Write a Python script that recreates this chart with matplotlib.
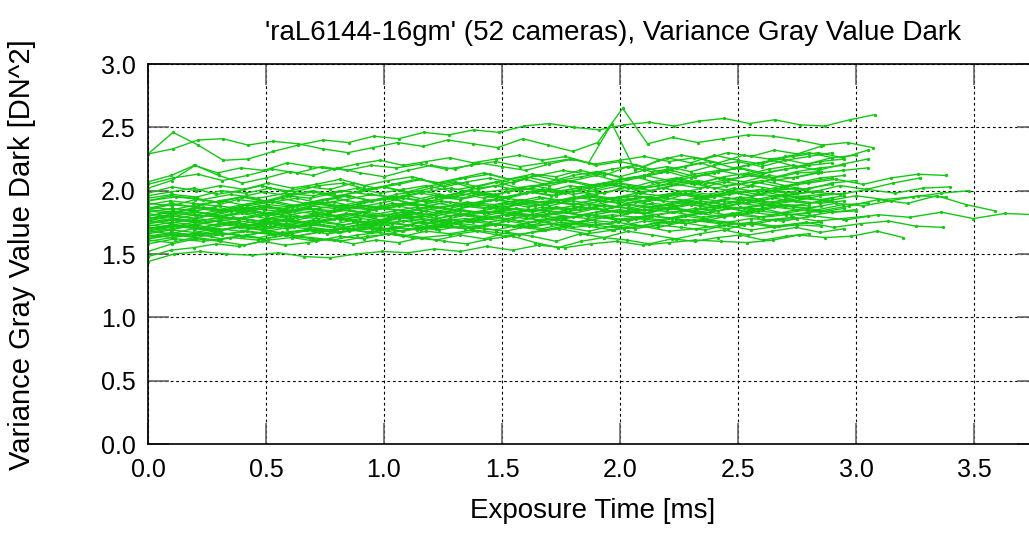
import numpy as np
import matplotlib
matplotlib.use('Agg')
import matplotlib.pyplot as plt

# max exposure time (ms) of each camera, same order as the variance lists below
t_max = [3.08, 3.07, 2.85, 3.05, 2.90,
         3.20, 2.80, 2.95,
         3.38, 3.27, 3.40, 3.48, 3.59, 3.90, 3.37, 3.38,
         2.95, 2.80, 3.00, 2.85, 2.90, 2.75, 3.05, 2.90, 2.85, 2.95,
         2.80, 3.00, 2.90, 2.85, 2.95, 2.75, 3.05, 2.90, 2.80, 2.95,
         2.85, 3.00, 2.90, 2.80, 2.95, 2.85, 3.05, 2.90, 2.75, 2.95,
         2.85, 3.00, 2.90, 3.05, 2.95, 2.85]

# variance gray value dark [DN^2], one list per camera
cam_01 = [2.29, 2.46, 2.36, 2.24, 2.25, 2.31, 2.36, 2.40, 2.38, 2.43, 2.41, 2.46, 2.44, 2.48, 2.46,
          2.51, 2.53, 2.50, 2.48, 2.52, 2.54, 2.51, 2.55, 2.57, 2.53, 2.56, 2.52, 2.51, 2.56, 2.60]
cam_02 = [2.29, 2.33, 2.40, 2.41, 2.36, 2.39, 2.37, 2.33, 2.30, 2.34, 2.38, 2.35, 2.40, 2.37, 2.34,
          2.41, 2.36, 2.31, 2.38, 2.65, 2.37, 2.42, 2.38, 2.41, 2.44, 2.43, 2.40, 2.36, 2.38, 2.34]
cam_03 = [2.07, 2.12, 2.20, 2.14, 2.18, 2.16, 2.22, 2.19, 2.17, 2.21, 2.24, 2.20, 2.23, 2.26, 2.22,
          2.25, 2.28, 2.24, 2.27, 2.22, 2.53, 2.16, 2.24, 2.28, 2.25, 2.30, 2.27, 2.32, 2.29, 2.35]
cam_04 = [2.05, 2.10, 2.13, 2.08, 2.12, 2.17, 2.14, 2.19, 2.16, 2.20, 2.18, 2.21, 2.17, 2.20, 2.23,
          2.19, 2.22, 2.25, 2.21, 2.24, 2.27, 2.23, 2.26, 2.22, 2.28, 2.25, 2.27, 2.30, 2.26, 2.32]
cam_05 = [2.02, 2.08, 2.20, 2.12, 2.06, 2.10, 2.15, 2.12, 2.18, 2.14, 2.11, 2.16, 2.20, 2.17, 2.22,
          2.19, 2.16, 2.21, 2.25, 2.20, 2.23, 2.19, 2.26, 2.22, 2.28, 2.24, 2.21, 2.27, 2.30, 2.26]
cam_06 = [1.44, 1.50, 1.52, 1.50, 1.49, 1.51, 1.48, 1.47, 1.50, 1.52, 1.51, 1.54, 1.52, 1.56, 1.53,
          1.57, 1.55, 1.58, 1.60, 1.57, 1.59, 1.61, 1.60, 1.59, 1.61, 1.65, 1.63, 1.64, 1.68, 1.63]
cam_07 = [1.48, 1.53, 1.55, 1.58, 1.56, 1.60, 1.57, 1.59, 1.62, 1.58, 1.61, 1.59, 1.63, 1.60, 1.58,
          1.62, 1.64, 1.59, 1.55, 1.60, 1.63, 1.61, 1.58, 1.62, 1.60, 1.63, 1.65, 1.61, 1.64, 1.66]
cam_08 = [1.52, 1.58, 1.62, 1.60, 1.57, 1.61, 1.63, 1.60, 1.64, 1.62, 1.66, 1.63, 1.61, 1.65, 1.62,
          1.67, 1.64, 1.60, 1.66, 1.63, 1.68, 1.65, 1.62, 1.66, 1.69, 1.65, 1.68, 1.71, 1.67, 1.70]
cam_09 = [1.92, 1.95, 1.93, 1.97, 1.94, 1.98, 1.96, 2.00, 1.97, 1.95, 1.99, 2.02, 1.98, 2.01, 2.04,
          2.00, 2.03, 2.06, 2.02, 2.05, 2.08, 2.04, 2.07, 2.03, 2.06, 2.09, 2.05, 2.10, 2.13, 2.12]
cam_10 = [1.78, 1.82, 1.80, 1.85, 1.83, 1.81, 1.86, 1.84, 1.88, 1.86, 1.90, 1.87, 1.91, 1.89, 1.93,
          1.90, 1.95, 1.92, 1.96, 1.94, 1.98, 1.95, 2.00, 1.97, 2.02, 1.99, 2.04, 2.01, 2.06, 2.10]
cam_11 = [1.85, 1.83, 1.87, 1.84, 1.88, 1.86, 1.90, 1.87, 1.85, 1.89, 1.92, 1.88, 1.91, 1.94, 1.90,
          1.93, 1.96, 1.92, 1.95, 1.98, 1.94, 1.97, 2.00, 1.96, 1.99, 1.97, 2.01, 1.98, 2.02, 2.03]
cam_12 = [1.74, 1.77, 1.75, 1.79, 1.76, 1.80, 1.78, 1.82, 1.79, 1.83, 1.81, 1.85, 1.82, 1.86, 1.84,
          1.88, 1.85, 1.89, 1.87, 1.91, 1.88, 1.93, 1.90, 1.94, 1.92, 1.96, 1.93, 1.95, 1.98, 2.00]
cam_13 = [1.68, 1.72, 1.70, 1.74, 1.71, 1.75, 1.73, 1.70, 1.74, 1.77, 1.73, 1.76, 1.79, 1.75, 1.78,
          1.81, 1.77, 1.80, 1.83, 1.79, 1.82, 1.86, 1.81, 1.84, 1.88, 1.93, 1.90, 1.96, 1.89, 1.84]
cam_14 = [1.62, 1.66, 1.64, 1.68, 1.65, 1.69, 1.67, 1.71, 1.68, 1.72, 1.70, 1.74, 1.71, 1.75, 1.73,
          1.70, 1.74, 1.77, 1.74, 1.78, 1.76, 1.80, 1.77, 1.81, 1.79, 1.83, 1.78, 1.82, 1.81, 1.81]
cam_15 = [1.58, 1.62, 1.60, 1.63, 1.61, 1.65, 1.62, 1.60, 1.64, 1.66, 1.63, 1.65, 1.68, 1.64, 1.67,
          1.70, 1.66, 1.69, 1.72, 1.68, 1.70, 1.73, 1.69, 1.72, 1.75, 1.71, 1.74, 1.76, 1.72, 1.71]
cam_16 = [1.70, 1.73, 1.71, 1.75, 1.72, 1.76, 1.74, 1.78, 1.75, 1.79, 1.77, 1.74, 1.78, 1.81, 1.79,
          1.83, 1.80, 1.84, 1.82, 1.86, 1.83, 1.87, 1.85, 1.89, 1.86, 1.90, 1.88, 1.92, 1.96, 1.95]
cam_17 = [1.98, 2.03, 2.00, 2.04, 2.01, 2.06, 2.02, 2.05, 2.09, 2.04, 2.08, 2.11, 2.06, 2.10, 2.14,
          2.09, 2.13, 2.11, 2.16, 2.12, 2.19, 2.15, 2.18, 2.22, 2.16, 2.20, 2.24, 2.19, 2.23, 2.25]
cam_18 = [1.96, 1.99, 2.02, 1.97, 2.00, 2.04, 1.99, 2.03, 2.01, 2.06, 2.02, 2.05, 2.09, 2.03, 2.07,
          2.10, 2.06, 2.12, 2.08, 2.11, 2.14, 2.09, 2.13, 2.16, 2.11, 2.15, 2.18, 2.14, 2.17, 2.20]
cam_19 = [1.94, 1.97, 1.95, 2.00, 1.98, 2.02, 1.99, 2.04, 2.06, 2.01, 2.05, 2.09, 2.06, 2.10, 2.13,
          2.08, 2.12, 2.16, 2.13, 2.17, 2.20, 2.15, 2.19, 2.23, 2.18, 2.22, 2.25, 2.21, 2.26, 2.28]
cam_20 = [1.92, 1.96, 1.94, 1.91, 1.95, 1.99, 1.96, 1.94, 1.98, 2.02, 1.98, 2.01, 2.04, 2.00, 2.03,
          2.07, 2.02, 2.05, 2.08, 2.04, 2.07, 2.11, 2.06, 2.09, 2.13, 2.08, 2.12, 2.10, 2.14, 2.15]
cam_21 = [1.90, 1.88, 1.93, 1.91, 1.95, 1.92, 1.97, 2.00, 1.96, 1.99, 2.03, 1.98, 2.02, 2.06, 2.01,
          2.05, 2.09, 2.04, 2.08, 2.12, 2.07, 2.11, 2.15, 2.10, 2.14, 2.18, 2.13, 2.17, 2.20, 2.22]
cam_22 = [1.89, 1.92, 1.90, 1.88, 1.93, 1.91, 1.94, 1.90, 1.93, 1.96, 1.92, 1.95, 1.93, 1.97, 1.94,
          1.98, 1.95, 1.99, 1.96, 2.00, 1.97, 2.01, 1.98, 2.02, 1.99, 2.03, 2.00, 2.04, 2.01, 2.05]
cam_23 = [1.87, 1.85, 1.89, 1.92, 1.88, 1.91, 1.94, 1.90, 1.93, 1.97, 1.94, 1.98, 1.95, 2.00, 1.97,
          2.02, 1.99, 2.04, 2.01, 2.06, 2.03, 2.08, 2.05, 2.10, 2.07, 2.12, 2.10, 2.14, 2.16, 2.18]
cam_24 = [1.86, 1.90, 1.87, 1.85, 1.89, 1.92, 1.88, 1.91, 1.94, 1.90, 1.93, 1.96, 1.92, 1.95, 1.99,
          1.94, 1.98, 2.01, 1.97, 2.00, 2.04, 1.99, 2.03, 2.06, 2.02, 2.05, 2.08, 2.04, 2.07, 2.10]
cam_25 = [1.84, 1.82, 1.86, 1.84, 1.87, 1.85, 1.83, 1.88, 1.86, 1.89, 1.87, 1.90, 1.88, 1.91, 1.89,
          1.93, 1.90, 1.94, 1.92, 1.95, 1.93, 1.96, 1.94, 1.97, 1.95, 1.99, 1.96, 2.00, 1.98, 2.00]
cam_26 = [1.83, 1.86, 1.84, 1.88, 1.85, 1.89, 1.87, 1.91, 1.88, 1.92, 1.94, 1.90, 1.95, 1.93, 1.97,
          1.94, 1.99, 1.96, 2.01, 1.98, 2.03, 2.00, 2.05, 2.02, 2.07, 2.04, 2.09, 2.06, 2.10, 2.12]
cam_27 = [1.82, 1.79, 1.83, 1.81, 1.85, 1.82, 1.84, 1.86, 1.83, 1.87, 1.85, 1.88, 1.84, 1.87, 1.89,
          1.86, 1.90, 1.88, 1.91, 1.89, 1.92, 1.90, 1.93, 1.91, 1.94, 1.92, 1.95, 1.93, 1.96, 1.95]
cam_28 = [1.80, 1.84, 1.81, 1.85, 1.83, 1.87, 1.84, 1.86, 1.89, 1.86, 1.90, 1.88, 1.92, 1.89, 1.93,
          1.91, 1.95, 1.92, 1.97, 1.94, 1.98, 1.96, 2.00, 1.97, 2.02, 1.99, 2.04, 2.01, 2.06, 2.08]
cam_29 = [1.79, 1.77, 1.81, 1.79, 1.83, 1.80, 1.84, 1.82, 1.85, 1.83, 1.86, 1.84, 1.88, 1.85, 1.89,
          1.87, 1.90, 1.88, 1.92, 1.89, 1.93, 1.91, 1.94, 1.92, 1.96, 1.93, 1.97, 1.95, 1.96, 1.98]
cam_30 = [1.78, 1.81, 1.84, 1.80, 1.83, 1.87, 1.84, 1.88, 1.91, 1.87, 1.90, 1.94, 1.91, 1.95, 1.98,
          1.94, 1.97, 2.01, 1.98, 2.02, 2.05, 2.01, 2.04, 2.08, 2.05, 2.09, 2.12, 2.08, 2.11, 2.15]
cam_31 = [1.77, 1.80, 1.78, 1.76, 1.79, 1.81, 1.78, 1.82, 1.80, 1.83, 1.81, 1.79, 1.83, 1.85, 1.82,
          1.86, 1.84, 1.87, 1.85, 1.88, 1.86, 1.84, 1.88, 1.90, 1.87, 1.91, 1.89, 1.92, 1.90, 1.92]
cam_32 = [1.76, 1.74, 1.78, 1.81, 1.77, 1.80, 1.83, 1.79, 1.82, 1.85, 1.81, 1.84, 1.87, 1.84, 1.88,
          1.86, 1.90, 1.87, 1.91, 1.89, 1.93, 1.90, 1.95, 1.92, 1.97, 1.94, 1.99, 1.96, 2.00, 2.02]
cam_33 = [1.75, 1.78, 1.76, 1.79, 1.77, 1.75, 1.79, 1.81, 1.78, 1.80, 1.82, 1.79, 1.83, 1.81, 1.84,
          1.82, 1.80, 1.84, 1.86, 1.83, 1.85, 1.87, 1.84, 1.88, 1.86, 1.89, 1.87, 1.85, 1.89, 1.90]
cam_34 = [1.74, 1.77, 1.75, 1.79, 1.82, 1.78, 1.81, 1.84, 1.80, 1.83, 1.86, 1.83, 1.87, 1.85, 1.89,
          1.86, 1.90, 1.92, 1.89, 1.93, 1.95, 1.92, 1.96, 1.98, 1.95, 1.99, 2.01, 1.98, 2.02, 2.05]
cam_35 = [1.73, 1.71, 1.75, 1.73, 1.76, 1.74, 1.77, 1.75, 1.78, 1.76, 1.74, 1.78, 1.80, 1.77, 1.81,
          1.79, 1.82, 1.80, 1.83, 1.81, 1.84, 1.82, 1.85, 1.83, 1.86, 1.84, 1.87, 1.85, 1.89, 1.88]
cam_36 = [1.72, 1.75, 1.73, 1.77, 1.74, 1.78, 1.76, 1.80, 1.77, 1.81, 1.79, 1.83, 1.80, 1.84, 1.82,
          1.86, 1.83, 1.87, 1.85, 1.89, 1.86, 1.90, 1.88, 1.92, 1.89, 1.93, 1.91, 1.95, 1.93, 1.96]
cam_37 = [1.71, 1.69, 1.73, 1.76, 1.72, 1.75, 1.78, 1.74, 1.78, 1.81, 1.77, 1.80, 1.84, 1.80, 1.83,
          1.86, 1.83, 1.87, 1.85, 1.89, 1.87, 1.91, 1.88, 1.92, 1.90, 1.94, 1.92, 1.96, 1.98, 2.00]
cam_38 = [1.70, 1.73, 1.71, 1.69, 1.72, 1.74, 1.71, 1.75, 1.73, 1.76, 1.74, 1.72, 1.76, 1.78, 1.75,
          1.79, 1.77, 1.80, 1.78, 1.81, 1.79, 1.77, 1.81, 1.83, 1.80, 1.84, 1.82, 1.85, 1.83, 1.85]
cam_39 = [1.69, 1.72, 1.70, 1.74, 1.71, 1.75, 1.73, 1.77, 1.74, 1.78, 1.76, 1.80, 1.77, 1.81, 1.79,
          1.83, 1.80, 1.84, 1.82, 1.86, 1.83, 1.87, 1.85, 1.89, 1.86, 1.90, 1.88, 1.92, 1.90, 1.94]
cam_40 = [1.68, 1.66, 1.70, 1.68, 1.71, 1.69, 1.72, 1.70, 1.68, 1.72, 1.74, 1.71, 1.75, 1.73, 1.76,
          1.74, 1.72, 1.76, 1.78, 1.75, 1.79, 1.77, 1.80, 1.78, 1.76, 1.80, 1.82, 1.79, 1.81, 1.82]
cam_41 = [1.67, 1.70, 1.73, 1.69, 1.72, 1.76, 1.72, 1.75, 1.79, 1.75, 1.78, 1.82, 1.78, 1.81, 1.84,
          1.81, 1.85, 1.83, 1.87, 1.85, 1.89, 1.87, 1.91, 1.88, 1.92, 1.90, 1.94, 1.92, 1.96, 1.98]
cam_42 = [1.66, 1.69, 1.67, 1.70, 1.68, 1.72, 1.70, 1.73, 1.71, 1.75, 1.72, 1.76, 1.74, 1.77, 1.75,
          1.79, 1.76, 1.80, 1.78, 1.81, 1.79, 1.83, 1.81, 1.84, 1.82, 1.86, 1.83, 1.87, 1.85, 1.88]
cam_43 = [1.65, 1.63, 1.67, 1.65, 1.68, 1.66, 1.64, 1.68, 1.70, 1.67, 1.71, 1.69, 1.72, 1.70, 1.73,
          1.71, 1.69, 1.73, 1.75, 1.72, 1.76, 1.74, 1.77, 1.75, 1.73, 1.77, 1.79, 1.76, 1.78, 1.80]
cam_44 = [1.64, 1.67, 1.65, 1.69, 1.72, 1.68, 1.71, 1.74, 1.70, 1.73, 1.76, 1.73, 1.77, 1.75, 1.79,
          1.76, 1.80, 1.82, 1.79, 1.83, 1.85, 1.82, 1.86, 1.84, 1.88, 1.86, 1.89, 1.87, 1.90, 1.92]
cam_45 = [1.63, 1.66, 1.64, 1.67, 1.65, 1.63, 1.67, 1.69, 1.66, 1.68, 1.70, 1.67, 1.71, 1.69, 1.72,
          1.70, 1.68, 1.72, 1.74, 1.71, 1.73, 1.75, 1.72, 1.76, 1.74, 1.77, 1.75, 1.73, 1.77, 1.78]
cam_46 = [1.62, 1.65, 1.63, 1.67, 1.64, 1.68, 1.66, 1.70, 1.67, 1.71, 1.69, 1.73, 1.70, 1.74, 1.72,
          1.76, 1.73, 1.77, 1.75, 1.79, 1.76, 1.80, 1.78, 1.82, 1.79, 1.83, 1.81, 1.85, 1.83, 1.86]
cam_47 = [1.61, 1.59, 1.63, 1.61, 1.64, 1.62, 1.65, 1.63, 1.61, 1.65, 1.67, 1.64, 1.68, 1.66, 1.69,
          1.67, 1.65, 1.69, 1.71, 1.68, 1.72, 1.70, 1.73, 1.71, 1.69, 1.73, 1.75, 1.72, 1.74, 1.75]
cam_48 = [1.60, 1.63, 1.66, 1.62, 1.65, 1.68, 1.64, 1.67, 1.70, 1.67, 1.71, 1.69, 1.73, 1.70, 1.74,
          1.72, 1.76, 1.73, 1.77, 1.75, 1.78, 1.76, 1.80, 1.77, 1.81, 1.79, 1.82, 1.80, 1.83, 1.84]
cam_49 = [1.85, 1.89, 1.87, 1.92, 1.95, 1.91, 1.96, 1.99, 1.95, 2.00, 2.03, 1.99, 2.04, 2.07, 2.03,
          2.08, 2.11, 2.07, 2.12, 2.15, 2.11, 2.16, 2.19, 2.15, 2.20, 2.23, 2.19, 2.24, 2.27, 2.30]
cam_50 = [1.80, 1.83, 1.87, 1.84, 1.89, 1.92, 1.88, 1.93, 1.96, 1.92, 1.97, 2.00, 1.96, 2.01, 2.04,
          2.00, 2.05, 2.08, 2.04, 2.09, 2.12, 2.08, 2.13, 2.16, 2.12, 2.17, 2.20, 2.16, 2.21, 2.25]
cam_51 = [1.76, 1.80, 1.78, 1.83, 1.86, 1.82, 1.87, 1.90, 1.86, 1.91, 1.94, 1.90, 1.95, 1.98, 1.94,
          1.99, 2.02, 1.98, 2.03, 2.06, 2.02, 2.07, 2.10, 2.06, 2.11, 2.14, 2.10, 2.15, 2.18, 2.20]
cam_52 = [1.70, 1.73, 1.71, 1.68, 1.72, 1.70, 1.74, 1.71, 1.69, 1.73, 1.71, 1.68, 1.72, 1.75, 1.71,
          1.69, 1.73, 1.70, 1.74, 1.72, 1.69, 1.73, 1.71, 1.75, 1.72, 1.70, 1.74, 1.71, 1.73, 1.72]

cameras = [cam_01, cam_02, cam_03, cam_04, cam_05, cam_06, cam_07, cam_08, cam_09, cam_10,
           cam_11, cam_12, cam_13, cam_14, cam_15, cam_16, cam_17, cam_18, cam_19, cam_20,
           cam_21, cam_22, cam_23, cam_24, cam_25, cam_26, cam_27, cam_28, cam_29, cam_30,
           cam_31, cam_32, cam_33, cam_34, cam_35, cam_36, cam_37, cam_38, cam_39, cam_40,
           cam_41, cam_42, cam_43, cam_44, cam_45, cam_46, cam_47, cam_48, cam_49, cam_50,
           cam_51, cam_52]

x_ticks = [0.0, 0.5, 1.0, 1.5, 2.0, 2.5, 3.0, 3.5]
y_ticks = [0.0, 0.5, 1.0, 1.5, 2.0, 2.5, 3.0]

plt.rcParams['font.family'] = ['Liberation Sans', 'DejaVu Sans']

W, H = 1029, 554
# plot area runs a little past the right edge of the picture (cropped original)
left, right, top, bottom = 148, 1038, 64, 444
fig = plt.figure(figsize=(W / 100, H / 100), dpi=100)
ax = fig.add_axes([left / W, 1 - bottom / H, (right - left) / W, (bottom - top) / H])

green = '#14c814'
for t, y in zip(t_max, cameras):
    # exposures are evenly stepped from 0 to the camera's max exposure
    x = np.linspace(0, t, len(y))
    ax.plot(x, y, color=green, lw=1.0, marker='o', ms=2.4, mew=0)

ax.set_xlim(0, (right - left) / 236.0)
ax.set_ylim(0, 3.0)
ax.set_xticks(x_ticks)
ax.set_yticks(y_ticks)
ax.set_xticklabels([f'{v:.1f}' for v in x_ticks])
ax.set_yticklabels([f'{v:.1f}' for v in y_ticks])
ax.grid(True, color='black', linestyle=(0, (2.5, 2.5)), linewidth=0.8)
ax.tick_params(direction='in', length=15, width=1.2, colors='#666666', labelcolor='black',
               labelsize=18, top=True, right=True)
ax.tick_params(axis='y', pad=9)
ax.tick_params(axis='x', pad=10)
for s in ax.spines.values():
    s.set_linewidth(1.2)

fig.text(613 / W, 1 - 33 / H, "'raL6144-16gm' (52 cameras), Variance Gray Value Dark",
         ha='center', va='center', fontsize=20)
fig.text(593 / W, 1 - 511 / H, 'Exposure Time [ms]', ha='center', va='center', fontsize=20)
fig.text(22 / W, 1 - 255 / H, 'Variance Gray Value Dark [DN^2]', ha='center', va='center',
         rotation=90, fontsize=21)

fig.savefig('out.png', dpi=100)
